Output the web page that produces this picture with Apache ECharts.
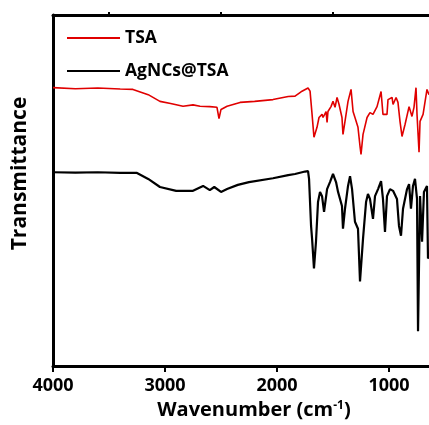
<!DOCTYPE html>
<html>
<head>
<meta charset="utf-8">
<script src="https://cdn.jsdelivr.net/npm/echarts@6/dist/echarts.min.js"></script>
<style>
  html, body { margin: 0; padding: 0; background: #fff; }
  #chart { width: 429px; height: 425px; }
</style>
</head>
<body>
<div id="chart"></div>
<script>
// wavenumber (cm-1) / transmittance (a.u.)
const tsaWave = [4000, 3800, 3600, 3400, 3286, 3150, 3045, 2950, 2839, 2750, 2687, 2600, 2536, 2518, 2500, 2446, 2330, 2200, 2036, 1900, 1839, 1795, 1777, 1723, 1705, 1687, 1670, 1643, 1625, 1598, 1589, 1562, 1553, 1545, 1518, 1500, 1482, 1464, 1446, 1420, 1411, 1393, 1366, 1339, 1321, 1304, 1277, 1259, 1250, 1232, 1196, 1170, 1143, 1107, 1071, 1054, 1018, 1009, 973, 964, 937, 920, 902, 884, 857, 821, 795, 777, 759, 750, 732, 723, 696, 661, 643];
const tsaT = [79.3, 79.0, 79.2, 78.9, 78.8, 77.3, 75.4, 74.8, 74.0, 74.4, 74.0, 73.9, 73.7, 70.5, 73.1, 74.0, 75.1, 75.4, 75.9, 76.8, 76.9, 77.9, 78.3, 79.2, 78.3, 71.7, 65.2, 68.0, 70.8, 71.7, 70.8, 72.5, 69.4, 72.5, 73.9, 75.4, 73.7, 76.5, 74.5, 70.8, 66.0, 69.7, 75.4, 78.8, 72.5, 70.8, 68.0, 62.6, 60.3, 66.0, 70.8, 72.2, 71.7, 73.9, 78.2, 71.7, 71.7, 75.9, 76.5, 74.5, 76.5, 75.1, 69.7, 65.4, 68.8, 73.9, 71.1, 73.7, 79.3, 71.7, 60.9, 69.7, 71.7, 78.8, 77.3];

const agWave = [4000, 3800, 3600, 3400, 3250, 3150, 3045, 2900, 2750, 2660, 2600, 2560, 2500, 2446, 2350, 2250, 2036, 1900, 1839, 1750, 1723, 1714, 1696, 1687, 1670, 1652, 1634, 1616, 1598, 1580, 1553, 1527, 1500, 1473, 1455, 1420, 1411, 1393, 1366, 1348, 1330, 1304, 1277, 1259, 1232, 1205, 1188, 1170, 1143, 1125, 1098, 1071, 1054, 1036, 1018, 991, 964, 929, 911, 893, 875, 839, 821, 804, 786, 768, 750, 741, 723, 705, 688, 661, 652, 643];
const agT = [55.2, 55.1, 55.2, 55.0, 55.0, 53.3, 51.0, 49.9, 49.9, 51.3, 50.1, 51.0, 49.6, 50.4, 51.6, 52.4, 53.5, 54.4, 54.7, 55.4, 55.5, 53.3, 39.9, 36.3, 27.8, 35.4, 46.7, 49.6, 48.4, 43.9, 50.4, 52.4, 54.7, 52.4, 49.6, 45.6, 39.1, 44.8, 51.3, 54.1, 50.4, 41.1, 39.1, 24.1, 36.3, 46.7, 49.0, 47.6, 41.9, 48.4, 50.4, 52.7, 47.6, 38.2, 48.4, 50.4, 49.9, 47.6, 39.9, 37.1, 44.8, 50.4, 51.8, 44.8, 51.3, 53.3, 47.6, 9.9, 48.4, 35.4, 49.6, 51.3, 30.6, 31.4];

const majorTicks = [4000, 3000, 2000, 1000];
const minorTicks = [3500, 2500, 1500];

const font = '"Open Sans", sans-serif';
const xMin = 643, xMax = 4000;

const pairs = (xs, ys) => xs.map((x, i) => [x, ys[i]]);

const chart = echarts.init(document.getElementById('chart'));
chart.setOption({
    animation: false,
    grid: { left: 53, right: 0, top: 15, bottom: 57 },
    legend: {
        orient: 'vertical',
        left: 62,
        top: 23,
        icon: 'rect',
        itemWidth: 53,
        itemHeight: 2,
        itemGap: 13,
        data: ['TSA', 'AgNCs@TSA'],
        textStyle: { fontFamily: font, fontWeight: 'bold', fontSize: 17.5, lineHeight: 20, color: '#000' }
    },
    xAxis: [
        {
            type: 'value', inverse: true, min: xMin, max: xMax,
            axisLine: { lineStyle: { color: '#000', width: 3 } },
            axisTick: { show: true, length: 6, lineStyle: { width: 2, color: '#000' }, customValues: majorTicks },
            axisLabel: { customValues: majorTicks, formatter: v => String(v), color: '#000', fontFamily: font, fontWeight: 'bold', fontSize: 18, margin: 11 },
            splitLine: { show: false },
            name: 'Wavenumber (cm{sup|-1})',
            nameLocation: 'middle',
            nameGap: 34,
            nameTextStyle: {
                color: '#000', fontFamily: font, fontWeight: 'bold', fontSize: 20, padding: [0, 0, 0, 26],
                rich: { sup: { fontSize: 12, verticalAlign: 'top', lineHeight: 14, fontFamily: font, color: '#000' } }
            }
        },
        {
            type: 'value', inverse: true, min: xMin, max: xMax,
            axisLine: { show: false },
            axisTick: { show: true, length: 3, lineStyle: { width: 2, color: '#000' }, customValues: minorTicks },
            axisLabel: { show: false },
            splitLine: { show: false }
        },
        {
            type: 'value', inverse: true, min: xMin, max: xMax, position: 'top',
            axisLine: { lineStyle: { color: '#000', width: 3 } },
            axisTick: { show: false },
            axisLabel: { show: false },
            splitLine: { show: false }
        }
    ],
    yAxis: {
        type: 'value', min: 0, max: 100,
        axisLine: { show: true, lineStyle: { color: '#000', width: 3 } },
        axisTick: { show: false },
        axisLabel: { show: false },
        splitLine: { show: false },
        name: 'Transmittance',
        nameLocation: 'middle',
        nameGap: 22,
        nameTextStyle: { color: '#000', fontFamily: font, fontWeight: 'bold', fontSize: 21, padding: [0, 0, 0, 34] }
    },
    series: [
        {
            name: 'TSA', type: 'line', xAxisIndex: 0, symbol: 'none',
            data: pairs(tsaWave, tsaT),
            lineStyle: { color: '#e00000', width: 1.6 },
            itemStyle: { color: '#e00000' }
        },
        {
            name: 'AgNCs@TSA', type: 'line', xAxisIndex: 0, symbol: 'none',
            data: pairs(agWave, agT),
            lineStyle: { color: '#000', width: 2.2 },
            itemStyle: { color: '#000' }
        }
    ]
});
</script>
</body>
</html>
